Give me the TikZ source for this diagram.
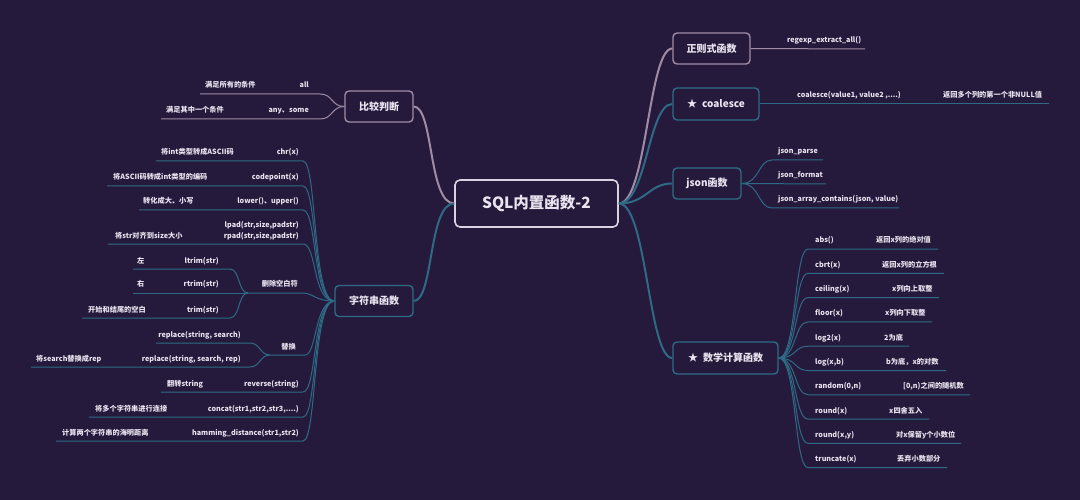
\documentclass[tikz,border=0pt]{standalone}
\usepackage{fontspec}
\setmainfont{Noto Sans CJK SC}
\definecolor{bg}{HTML}{261A3C}
\definecolor{tealc}{HTML}{2E6A84}
\definecolor{pinkl}{HTML}{9E8CA6}
\definecolor{txt}{HTML}{E9E4EF}
\definecolor{cent}{HTML}{D9D2E2}
\tikzset{
  cat/.style={draw, rounded corners=4pt, line width=1.4pt, fill=bg, text=txt,
    font=\fontsize{10}{12}\selectfont\bfseries, inner sep=0pt, minimum height=31pt},
  lf/.style={text=txt, font=\fontsize{7.2}{8.5}\selectfont\bfseries, inner sep=0pt},
  mainl/.style={line width=2pt},
  leafl/.style={line width=1pt},
}
\begin{document}
\begin{tikzpicture}[x=1pt,y=-1pt]
\fill[bg] (0,0) rectangle (1080,500);
\useasboundingbox (0,0) rectangle (1080,500);

% ---------- nodes
\node[draw=cent, line width=1.6pt, rounded corners=5pt, minimum width=163pt, minimum height=47pt,
  fill=bg, text=txt, font=\fontsize{15.5}{18}\selectfont\bfseries, inner sep=0pt] (root) at (536.5,203.5) {SQL内置函数-2};
\node[cat, draw=pinkl, minimum width=68pt] (cmp) at (379,106.5) {比较判断};
\node[cat, draw=tealc, minimum width=78pt] (str) at (374,301) {字符串函数};
\node[cat, draw=pinkl, minimum width=77pt] (reg) at (711.5,48.5) {正则式函数};
\node[cat, draw=tealc, minimum width=86pt, minimum height=32pt] (coa) at (716,104) {★\hspace{5pt}coalesce};
\node[cat, draw=tealc, minimum width=68pt] (json) at (707,183.5) {json函数};
\node[cat, draw=tealc, minimum width=105pt, minimum height=32pt] (math) at (725.5,358) {★\hspace{5pt}数学计算函数};

% ---------- main connectors
\draw[pinkl, mainl] (root.west) .. controls +(-26,0) and +(20,0) .. (cmp.east);
\draw[tealc, mainl] (root.west) .. controls +(-26,0) and +(20,0) .. (str.east);
\draw[pinkl, mainl] (root.east) .. controls +(28,0) and +(-24,0) .. (reg.west);
\draw[tealc, mainl] (root.east) .. controls +(28,0) and +(-24,0) .. (coa.west);
\draw[tealc, mainl] (root.east) .. controls +(28,0) and +(-24,0) .. (json.west);
\draw[tealc, mainl] (root.east) .. controls +(28,0) and +(-24,0) .. (math.west);

% ---------- 比较判断
\coordinate (a1) at (320,94); \coordinate (a1e) at (200,94);
\coordinate (a2) at (320,119); \coordinate (a2e) at (161,119);
\draw[pinkl, leafl] (cmp.west) .. controls +(-13,0) and +(13,0) .. (a1) -- (a1e);
\draw[pinkl, leafl] (cmp.west) .. controls +(-13,0) and +(13,0) .. (a2) -- (a2e);
\node[lf, anchor=base east] (tall) at (309,88) {all};
\node[lf, anchor=base west] (dall) at (205,88) {满足所有的条件};
\node[lf, anchor=base east] (tany) at (309,113) {any、some};
\node[lf, anchor=base west] (dany) at (166,113) {满足其中一个条件};

% ---------- 字符串函数
\foreach \n/\y/\xl in {s1/161/156, s2/186/107, s3/210/139, s4/244/108, s7/392/161, s8/417/89, s9/441/56}{
  \coordinate (\n) at (303,\y); \coordinate (\n e) at (\xl,\y);
}
\foreach \n in {s1,s2,s3,s4,s7,s8,s9}{
  \draw[tealc, leafl] (str.west) .. controls +(-22,0) and +(14,0) .. (\n) -- (\n e);
}
\node[lf, anchor=base east] (ts1) at (299,155) {chr(x)};
\node[lf, anchor=base west] (ds1) at (161,155) {将int类型转成ASCII码};
\node[lf, anchor=base east] (ts2) at (299,180) {codepoint(x)};
\node[lf, anchor=base west] (ds2) at (113,180) {将ASCII码转成int类型的编码};
\node[lf, anchor=base east] (ts3) at (299,204) {lower()、upper()};
\node[lf, anchor=base west] (ds3) at (143,204) {转化成大、小写};
\node[lf, anchor=base east] (ts4a) at (299,228) {lpad(str,size,padstr)};
\node[lf, anchor=base east] (ts4b) at (299,238) {rpad(str,size,padstr)};
\node[lf, anchor=base west] (ds4) at (115,238) {将str对齐到size大小};
\node[lf, anchor=base east] (ts7) at (299,386) {reverse(string)};
\node[lf, anchor=base west] (ds7) at (167,386) {翻转string};
\node[lf, anchor=base east] (ts8) at (299,411) {concat(str1,str2,str3,....)};
\node[lf, anchor=base west] (ds8) at (95,411) {将多个字符串进行连接};
\node[lf, anchor=base east] (ts9) at (299,435) {hamming\_distance(str1,str2)};
\node[lf, anchor=base west] (ds9) at (62,435) {计算两个字符串的海明距离};

% 删除空白符
\coordinate (g1a) at (302,293); \coordinate (g1) at (248,293);
\draw[tealc, leafl] (str.west) .. controls +(-20,0) and +(12,0) .. (g1a) -- (g1);
\node[lf, anchor=base east] (tg1) at (298,287) {删除空白符};
\coordinate (g1x) at (230,269); \coordinate (g1xe) at (133,269);
\coordinate (g1ye) at (133,293);
\coordinate (g1z) at (230,318); \coordinate (g1ze) at (82,318);
\draw[tealc, leafl] (g1) .. controls +(-10,0) and +(10,0) .. (g1x) -- (g1xe);
\draw[tealc, leafl] (g1) -- (g1ye);
\draw[tealc, leafl] (g1) .. controls +(-10,0) and +(10,0) .. (g1z) -- (g1ze);
\node[lf, anchor=base east] (tl) at (219,263) {ltrim(str)};
\node[lf, anchor=base west] (dl) at (137,263) {左};
\node[lf, anchor=base east] (tr) at (219,287) {rtrim(str)};
\node[lf, anchor=base west] (dr) at (137,287) {右};
\node[lf, anchor=base east] (tt) at (219,312) {trim(str)};
\node[lf, anchor=base west] (dt) at (88,312) {开始和结尾的空白};

% 替换
\coordinate (g2a) at (305,355); \coordinate (g2) at (270,355);
\draw[tealc, leafl] (str.west) .. controls +(-20,0) and +(12,0) .. (g2a) -- (g2);
\node[lf, anchor=base east] (tg2) at (296,349) {替换};
\coordinate (g2x) at (250,343); \coordinate (g2xe) at (156,343);
\coordinate (g2z) at (250,367); \coordinate (g2ze) at (31,367);
\draw[tealc, leafl] (g2) .. controls +(-10,0) and +(10,0) .. (g2x) -- (g2xe);
\draw[tealc, leafl] (g2) .. controls +(-10,0) and +(10,0) .. (g2z) -- (g2ze);
\node[lf, anchor=base east] (tr1) at (241,337) {replace(string, search)};
\node[lf, anchor=base east] (tr2) at (241,361) {replace(string, search, rep)};
\node[lf, anchor=base west] (dr2) at (36,361) {将search替换成rep};

% ---------- 正则式
\coordinate (r1) at (865,49);
\draw[pinkl, leafl] (reg.east) -- (r1);
\node[lf, anchor=base west] (tre) at (787,43) {regexp\_extract\_all()};

% ---------- coalesce
\coordinate (c1) at (1049,104);
\draw[tealc, leafl] (coa.east) -- (c1);
\node[lf, anchor=base west] (tco) at (797,98) {coalesce(value1, value2 ,....)};
\node[lf, anchor=base west] (dco) at (943,98) {返回多个列的第一个非NULL值};

% ---------- json
\coordinate (j1) at (772,160); \coordinate (j1e) at (823,160);
\coordinate (j2e) at (826,184);
\coordinate (j3) at (772,208); \coordinate (j3e) at (899,208);
\draw[tealc, leafl] (json.east) .. controls +(18,0) and +(-14,0) .. (j1) -- (j1e);
\draw[tealc, leafl] (json.east) -- (j2e);
\draw[tealc, leafl] (json.east) .. controls +(18,0) and +(-14,0) .. (j3) -- (j3e);
\node[lf, anchor=base west] (tj1) at (778,154) {json\_parse};
\node[lf, anchor=base west] (tj2) at (778,178) {json\_format};
\node[lf, anchor=base west] (tj3) at (778,202) {json\_array\_contains(json, value)};

% ---------- 数学计算函数
\foreach \k/\xe/\fn/\dx/\ds in {
  0/938/abs()/876/返回x列的绝对值,
  1/944/cbrt(x)/882/返回x列的立方根,
  2/939/ceiling(x)/892/x列向上取整,
  3/932/floor(x)/885/x列向下取整,
  4/909/log2(x)/884/2为底,
  5/946/{log(x,b)}/886/{b为底，x的对数},
  6/970/{random(0,n)}/903/{[0,n)之间的随机数},
  7/929/round(x)/889/x四舍五入,
  8/961/{round(x,y)}/896/对x保留y个小数位,
  9/947/truncate(x)/897/丢弃小数部分}{
  \pgfmathsetmacro{\uy}{249+24.3*\k}
  \coordinate (m\k) at (808,\uy);
  \coordinate (m\k e) at (\xe,\uy);
  \draw[tealc, leafl] (math.east) .. controls +(18,0) and +(-14,0) .. (m\k) -- (m\k e);
  \node[lf, anchor=base west] (mt\k) at (815,\uy-6) {\fn};
  \node[lf, anchor=base west] (md\k) at (\dx,\uy-6) {\ds};
}
\end{tikzpicture}
\end{document}
